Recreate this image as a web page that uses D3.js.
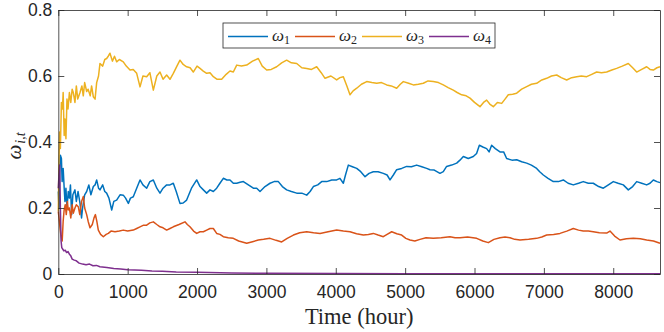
<!DOCTYPE html>
<html>
<head>
<meta charset="utf-8">
<script src="https://cdn.jsdelivr.net/npm/d3@7"></script>
<style>
  body { margin: 0; background: #fff; }
  svg { display: block; }
</style>
</head>
<body>
<script>
// hours / weights, one pair of arrays per series
var t1 = [0,10,20,30,45,55,70,85,96,110,125,144,160,175,192,210,240,260,285,313,335,350,380,409,440,470,505,530,553,580,601,640,670,697,730,770,800,841,890,937,970,1010,1040,1081,1130,1178,1220,1274,1320,1370,1420,1466,1510,1562,1610,1658,1700,1754,1800,1850,1920,1995,2043,2091,2139,2187,2235,2283,2330,2379,2430,2475,2523,2572,2620,2668,2740,2812,2860,2908,2980,3052,3110,3172,3230,3292,3360,3437,3510,3581,3630,3677,3740,3797,3870,3941,4013,4060,4109,4140,4181,4240,4302,4360,4422,4480,4541,4610,4685,4740,4782,4830,4878,4950,5022,5090,5166,5240,5310,5358,5420,5502,5550,5598,5670,5743,5790,5839,5910,5983,6030,6070,6120,6175,6210,6247,6300,6367,6420,6463,6540,6608,6680,6752,6820,6896,6940,6992,7060,7136,7210,7280,7350,7424,7500,7568,7640,7712,7790,7857,7930,8001,8070,8145,8217,8280,8338,8410,8482,8530,8578,8630,8674];
var w1 = [0.25,0.2,0.3,0.36,0.35,0.28,0.32,0.26,0.22,0.26,0.2,0.25,0.23,0.27,0.18,0.24,0.255,0.22,0.25,0.214,0.17,0.2,0.24,0.25,0.27,0.24,0.265,0.27,0.285,0.26,0.255,0.27,0.25,0.245,0.23,0.194,0.22,0.224,0.24,0.239,0.23,0.214,0.23,0.234,0.26,0.285,0.27,0.26,0.28,0.285,0.26,0.245,0.26,0.27,0.27,0.275,0.25,0.214,0.215,0.224,0.26,0.285,0.265,0.255,0.245,0.255,0.25,0.26,0.275,0.29,0.285,0.285,0.275,0.275,0.278,0.28,0.27,0.26,0.26,0.25,0.265,0.275,0.28,0.28,0.265,0.255,0.25,0.245,0.245,0.239,0.25,0.265,0.27,0.28,0.28,0.285,0.285,0.29,0.275,0.3,0.33,0.325,0.32,0.31,0.295,0.305,0.31,0.31,0.305,0.3,0.285,0.3,0.316,0.32,0.326,0.325,0.33,0.325,0.32,0.316,0.315,0.305,0.31,0.326,0.33,0.336,0.345,0.356,0.35,0.356,0.365,0.39,0.385,0.38,0.37,0.39,0.38,0.37,0.37,0.35,0.345,0.346,0.34,0.336,0.33,0.32,0.31,0.3,0.29,0.28,0.28,0.285,0.275,0.27,0.275,0.28,0.275,0.275,0.265,0.26,0.27,0.28,0.275,0.27,0.255,0.265,0.28,0.275,0.27,0.275,0.285,0.28,0.277];

var t2 = [0,15,25,36,56,70,84,100,115,130,144,160,180,200,216,240,260,288,310,335,361,380,409,430,457,490,515,535,555,577,610,649,690,721,760,817,880,937,1000,1081,1130,1178,1230,1274,1320,1370,1420,1466,1510,1562,1610,1658,1740,1826,1860,1898,1950,1995,2043,2091,2139,2187,2235,2283,2330,2379,2450,2523,2600,2716,2800,2883,2960,3052,3140,3220,3300,3389,3480,3581,3680,3773,3890,4013,4110,4205,4300,4398,4470,4541,4610,4685,4740,4806,4880,4950,5010,5070,5140,5214,5300,5406,5520,5646,5720,5791,5900,6031,6120,6199,6280,6367,6440,6512,6580,6656,6780,6896,6970,7040,7140,7232,7330,7424,7500,7568,7640,7712,7800,7905,7953,8020,8097,8190,8290,8390,8482,8580,8674];
var w2 = [0.19,0.16,0.14,0.12,0.1,0.16,0.194,0.21,0.18,0.22,0.194,0.2,0.17,0.21,0.184,0.2,0.21,0.204,0.18,0.22,0.235,0.2,0.18,0.16,0.14,0.15,0.17,0.18,0.16,0.133,0.12,0.113,0.12,0.123,0.13,0.128,0.13,0.133,0.13,0.133,0.138,0.143,0.148,0.148,0.155,0.158,0.15,0.143,0.14,0.133,0.138,0.143,0.15,0.158,0.15,0.143,0.13,0.123,0.128,0.128,0.133,0.138,0.138,0.123,0.12,0.113,0.11,0.108,0.1,0.093,0.098,0.103,0.105,0.108,0.102,0.097,0.108,0.118,0.125,0.128,0.125,0.123,0.128,0.133,0.13,0.128,0.122,0.118,0.12,0.123,0.118,0.113,0.12,0.128,0.122,0.118,0.108,0.103,0.1,0.105,0.11,0.108,0.11,0.113,0.11,0.11,0.112,0.108,0.1,0.095,0.105,0.11,0.112,0.11,0.105,0.103,0.105,0.108,0.112,0.118,0.12,0.123,0.13,0.138,0.133,0.13,0.13,0.128,0.125,0.124,0.13,0.115,0.103,0.107,0.108,0.107,0.103,0.1,0.093];

var t3 = [0,10,20,30,45,60,70,85,95,110,125,140,160,180,200,216,240,260,280,313,340,360,380,409,430,460,480,505,530,553,580,601,640,670,697,720,745,780,810,841,880,937,980,1034,1080,1130,1178,1220,1274,1320,1370,1420,1466,1510,1562,1610,1658,1710,1754,1800,1850,1900,1946,2000,2043,2090,2139,2187,2235,2290,2355,2420,2475,2523,2572,2640,2716,2800,2883,2940,3004,3070,3148,3220,3292,3360,3437,3510,3581,3650,3725,3790,3845,3930,4013,4060,4109,4160,4205,4250,4302,4370,4446,4520,4590,4660,4734,4800,4878,4930,4974,5050,5118,5190,5262,5330,5406,5480,5550,5620,5694,5750,5815,5880,5935,6000,6079,6130,6175,6220,6271,6330,6392,6440,6487,6550,6608,6680,6752,6820,6896,6970,7040,7110,7185,7250,7329,7400,7473,7540,7617,7690,7761,7830,7905,7980,8049,8130,8217,8280,8338,8410,8482,8530,8578,8630,8674];
var w3 = [0.19,0.35,0.43,0.38,0.52,0.5,0.55,0.42,0.47,0.41,0.53,0.5,0.55,0.52,0.56,0.55,0.52,0.57,0.53,0.55,0.57,0.54,0.58,0.553,0.56,0.54,0.57,0.537,0.53,0.58,0.6,0.638,0.63,0.65,0.653,0.66,0.669,0.645,0.66,0.643,0.65,0.643,0.63,0.618,0.62,0.608,0.567,0.6,0.598,0.61,0.557,0.6,0.612,0.59,0.603,0.59,0.608,0.63,0.648,0.635,0.628,0.625,0.612,0.63,0.623,0.615,0.608,0.61,0.598,0.59,0.59,0.605,0.615,0.612,0.633,0.63,0.633,0.645,0.653,0.63,0.618,0.62,0.628,0.64,0.648,0.64,0.638,0.625,0.623,0.62,0.628,0.61,0.593,0.6,0.588,0.595,0.598,0.57,0.543,0.555,0.563,0.575,0.583,0.58,0.578,0.58,0.573,0.57,0.563,0.575,0.583,0.578,0.573,0.575,0.578,0.585,0.583,0.58,0.573,0.565,0.557,0.55,0.543,0.54,0.533,0.52,0.507,0.52,0.527,0.515,0.507,0.52,0.517,0.53,0.543,0.545,0.548,0.56,0.568,0.575,0.578,0.588,0.593,0.6,0.603,0.595,0.588,0.595,0.598,0.6,0.598,0.605,0.612,0.61,0.612,0.618,0.623,0.63,0.638,0.625,0.612,0.62,0.628,0.62,0.618,0.625,0.628];

var t4 = [0,10,20,30,40,50,65,80,100,120,140,160,180,200,230,260,300,350,400,450,500,550,600,700,800,900,1000,1100,1200,1350,1500,1700,2000,2500,3000,4000,5000,6000,7000,8000,8674];
var w4 = [0.26,0.3,0.33,0.2,0.1,0.08,0.075,0.07,0.072,0.065,0.068,0.06,0.055,0.045,0.042,0.04,0.033,0.03,0.028,0.03,0.025,0.026,0.022,0.02,0.017,0.015,0.013,0.012,0.011,0.009,0.008,0.006,0.005,0.003,0.002,0.0015,0.001,0.001,0.001,0.0008,0.0008];

var seriesNames = ["1", "2", "3", "4"];
var colors = ["#0072BD", "#D95319", "#EDB120", "#7E2F8E"];
var xTicks = [0, 1000, 2000, 3000, 4000, 5000, 6000, 7000, 8000];
var yTicks = [0, 0.2, 0.4, 0.6, 0.8];

var series = [[t1, w1], [t2, w2], [t3, w3], [t4, w4]];

var W = 664, H = 332;
var margin = {top: 10, right: 4, bottom: 58, left: 58.3};
var w = W - margin.left - margin.right,
    h = H - margin.top - margin.bottom;

var svg = d3.select("body").append("svg")
  .attr("width", W)
  .attr("height", H);

var g = svg.append("g")
  .attr("transform", "translate(" + margin.left + "," + margin.top + ")");

var x = d3.scaleLinear().domain([0, 8674]).range([0, w]);
var y = d3.scaleLinear().domain([0, 0.8]).range([h, 0]);

g.append("rect")
  .attr("width", w)
  .attr("height", h)
  .style("fill", "white");

var line = d3.line()
  .x(function(d) { return x(d[0]); })
  .y(function(d) { return y(d[1]); });

series.forEach(function(s, i) {
  var pts = s[0].map(function(t, j) { return [t, s[1][j]]; });
  g.append("path")
    .datum(pts)
    .attr("d", line)
    .style("fill", "none")
    .style("stroke", colors[i])
    .style("stroke-width", 1.5)
    .style("stroke-linejoin", "round");
});

// box axes, ticks pointing in
var tickFont = "17.5px 'Liberation Sans', Arial, sans-serif";
var axColor = "#262626";

var xb = g.append("g").attr("transform", "translate(0," + h + ")")
  .call(d3.axisBottom(x).tickValues(xTicks).tickSizeInner(-6).tickSizeOuter(0).tickPadding(12).tickFormat(d3.format("d")));
var xt = g.append("g")
  .call(d3.axisTop(x).tickValues(xTicks).tickSizeInner(-6).tickSizeOuter(0).tickFormat(""));
var yl = g.append("g")
  .call(d3.axisLeft(y).tickValues(yTicks).tickSizeInner(-6).tickSizeOuter(0).tickPadding(6).tickFormat(function(d) { return d === 0 ? "0" : d3.format(".1f")(d); }));
var yr = g.append("g").attr("transform", "translate(" + w + ",0)")
  .call(d3.axisRight(y).tickValues(yTicks).tickSizeInner(-6).tickSizeOuter(0).tickFormat(""));

[xb, xt, yl, yr].forEach(function(a) {
  a.select(".domain").style("stroke", axColor).style("stroke-width", 0.8);
  a.selectAll(".tick line").style("stroke", axColor).style("stroke-width", 0.8);
  a.selectAll(".tick text").style("font", tickFont).style("fill", axColor);
});

// axis labels
svg.append("text")
  .attr("x", margin.left + w / 2)
  .attr("y", 324)
  .attr("text-anchor", "middle")
  .style("font", "22.5px 'Liberation Serif', 'Times New Roman', serif")
  .style("fill", axColor)
  .text("Time (hour)");

var ylab = svg.append("text")
  .attr("transform", "translate(21," + (margin.top + h / 2 + 4) + ") rotate(-90)")
  .attr("text-anchor", "middle")
  .style("font", "italic 21px 'Liberation Serif', 'Times New Roman', serif")
  .style("fill", axColor);
ylab.append("tspan").text("ω");
ylab.append("tspan").attr("dy", 4).attr("dx", 1).style("font-size", "14px").text("i,t");

// legend
var leg = svg.append("g").attr("transform", "translate(223,23)");
leg.append("rect")
  .attr("width", 272)
  .attr("height", 25)
  .style("fill", "white")
  .style("stroke", axColor)
  .style("stroke-width", 0.8);

seriesNames.forEach(function(n, i) {
  var ox = 5 + i * 67;
  leg.append("line")
    .attr("x1", ox).attr("x2", ox + 40)
    .attr("y1", 13.5).attr("y2", 13.5)
    .style("stroke", colors[i])
    .style("stroke-width", 1.3);
  var t = leg.append("text")
    .attr("x", ox + 44)
    .attr("y", 18)
    .style("font", "italic 17px 'Liberation Serif', 'Times New Roman', serif")
    .style("fill", axColor);
  t.append("tspan").text("ω");
  t.append("tspan").attr("dy", 3).style("font-style", "normal").style("font-size", "12px").text(n);
});
</script>
</body>
</html>
